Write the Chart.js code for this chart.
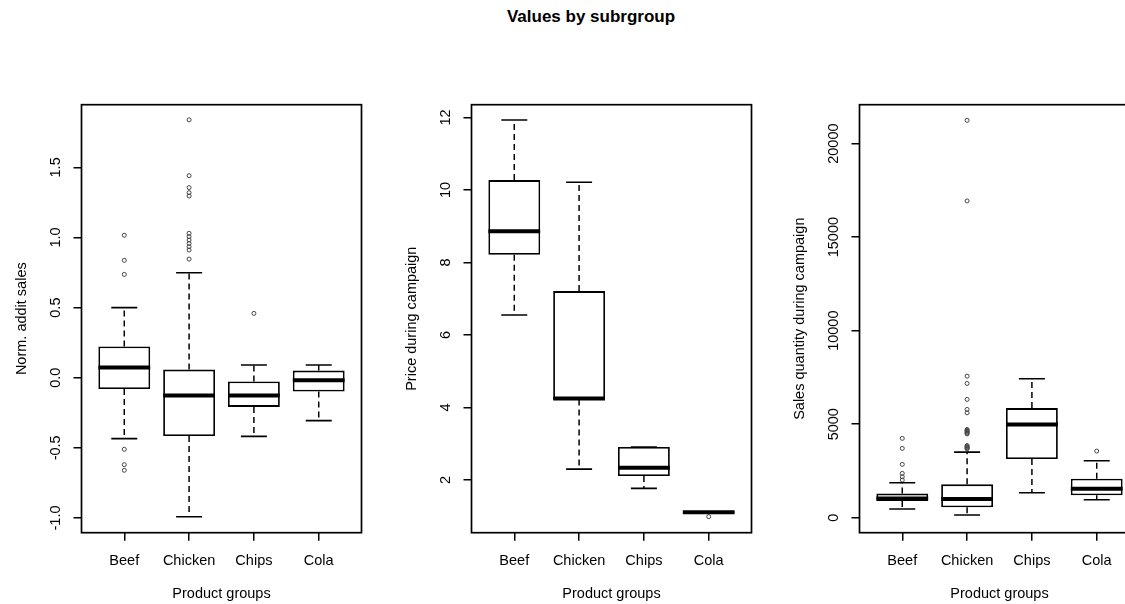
<!DOCTYPE html>
<html>
<head>
<meta charset="utf-8">
<script src="https://cdn.jsdelivr.net/npm/chart.js@4"></script>
<style>
  html, body { margin: 0; padding: 0; background: #fff; overflow: hidden; width: 1125px; height: 604px; }
  #title { position: absolute; left: 0; width: 1182px; top: 6px; text-align: center;
           font: bold 17px "Liberation Sans", Arial, sans-serif; color: #000; line-height: 22px; }
  canvas { position: absolute; top: 0; }
</style>
</head>
<body>
<div id="title">Values by subrgroup</div>
<canvas id="c1" width="375" height="604" style="left:0px"></canvas>
<canvas id="c2" width="375" height="604" style="left:390px"></canvas>
<canvas id="c3" width="375" height="604" style="left:778px"></canvas>
<script>
// ---------------- data ----------------
const categories = ['Beef', 'Chicken', 'Chips', 'Cola'];
const xAxisTitle = 'Product groups';

// Panel 1: Norm. addit sales
const normLow    = [-0.434, -0.991, -0.418, -0.306];
const normQ1     = [-0.080, -0.416, -0.208, -0.099];
const normMedian = [ 0.073, -0.127, -0.127, -0.018];
const normQ3     = [ 0.223,  0.058, -0.027,  0.051];
const normHigh   = [ 0.500,  0.749,  0.091,  0.091];
const normOutBeef    = [1.016, 0.837, 0.737, -0.51, -0.62, -0.66];
const normOutChicken = [1.839, 1.441, 1.356, 1.320, 1.296, 1.030, 1.006, 0.982, 0.958, 0.934, 0.911, 0.846];
const normOutChips   = [0.459];
const normOutCola    = [];
const normTicks = [-1.0, -0.5, 0.0, 0.5, 1.0, 1.5];

// Panel 2: Price during campaign
const priceLow    = [6.55, 2.30, 1.77, 1.11];
const priceQ1     = [8.21, 4.22, 2.11, 1.10];
const priceMedian = [8.86, 4.25, 2.34, 1.11];
const priceQ3     = [10.27, 7.21, 2.91, 1.12];
const priceHigh   = [11.93, 10.21, 2.91, 1.12];
const priceOutBeef    = [];
const priceOutChicken = [];
const priceOutChips   = [];
const priceOutCola    = [0.99];
const priceTicks = [2, 4, 6, 8, 10, 12];

// Panel 3: Sales quantity during campaign
const salesLow    = [465, 144, 1336, 962];
const salesQ1     = [890, 555, 3136, 1197];
const salesMedian = [1030, 999, 4989, 1549];
const salesQ3     = [1290, 1784, 5860, 2083];
const salesHigh   = [1870, 3510, 7426, 3045];
const salesOutBeef    = [4242, 3707, 2852, 2372, 2190, 2014];
const salesOutChicken = [21245, 16934, 7570, 7178, 6325, 5791, 5609, 4720, 4670, 4620, 4570, 4520, 4480, 3860, 3810, 3760, 3720, 3680];
const salesOutChips   = [];
const salesOutCola    = [3563];
const salesTicks = [0, 5000, 10000, 15000, 20000];

// ---------------- helpers ----------------
const FONT = '"Liberation Sans", Arial, sans-serif';
const FS = 14.5;
const Y_WIDTH = 81.5;     // space left of plot region
const X_HEIGHT = 71.3;    // space below plot region
const TICK_LEN = 8;

const measureCtx = document.createElement('canvas').getContext('2d');
measureCtx.font = FS + 'px ' + FONT;

const framePlugin = {
  id: 'frame',
  afterDatasetsDraw(chart) {
    const a = chart.chartArea, ctx = chart.ctx;
    ctx.save();
    ctx.strokeStyle = '#000';
    ctx.lineWidth = 1.7;
    ctx.strokeRect(a.left, a.top, a.right - a.left, a.bottom - a.top);
    ctx.restore();
  }
};

function makePanel(id, yTitle, yMin, yMax, yTicks, fmt, low, q1, med, q3, high, outs) {
  const boxes = categories.map((c, i) => ({ x: i + 1, y: [q1[i], q3[i]] }));
  const medians = categories.map((c, i) => ({ x: i + 1, y: med[i] }));
  const caps = [];
  const whiskers = [];
  categories.forEach((c, i) => {
    caps.push({ x: i + 1, y: high[i] }, { x: i + 1, y: low[i] });
    whiskers.push({ x: i + 1, y: q3[i] }, { x: i + 1, y: high[i] }, { x: i + 1, y: null });
    whiskers.push({ x: i + 1, y: q1[i] }, { x: i + 1, y: low[i] }, { x: i + 1, y: null });
  });
  const outliers = [];
  outs.forEach((arr, i) => arr.forEach(v => outliers.push({ x: i + 1, y: v })));

  const labels = yTicks.map(fmt);
  const widest = Math.max(...labels.map(l => measureCtx.measureText(l).width));
  const yPad = 25.5 - TICK_LEN - widest / 2;

  new Chart(document.getElementById(id), {
    type: 'bar',
    data: {
      datasets: [
        { type: 'scatter', data: medians, pointStyle: 'line', pointRadius: 25.9, pointHoverRadius: 25.9,
          borderColor: '#000', pointBorderWidth: 4, borderWidth: 4, order: 0 },
        { type: 'scatter', data: caps, pointStyle: 'line', pointRadius: 13, pointHoverRadius: 13,
          borderColor: '#000', pointBorderWidth: 1.6, borderWidth: 1.6, order: 1 },
        { type: 'scatter', data: outliers, pointStyle: 'circle', pointRadius: 2, pointHoverRadius: 2,
          borderColor: '#444', backgroundColor: 'rgba(255,255,255,0)', pointBorderWidth: 1, borderWidth: 1, order: 1 },
        { type: 'line', data: whiskers, borderColor: '#000', borderWidth: 1.5, borderDash: [6, 4],
          pointRadius: 0, spanGaps: false, fill: false, tension: 0, order: 2 },
        { type: 'bar', data: boxes, backgroundColor: '#fff', borderColor: '#000', borderWidth: 1.8,
          borderSkipped: false, barPercentage: 0.8, categoryPercentage: 1.0, order: 3 }
      ]
    },
    options: {
      responsive: false,
      devicePixelRatio: 1,
      animation: false,
      events: [],
      layout: { autoPadding: false, padding: { top: 104.7, right: 375 - Y_WIDTH - 280, bottom: 0, left: 0 } },
      plugins: { legend: { display: false }, tooltip: { enabled: false }, title: { display: false } },
      scales: {
        x: {
          type: 'linear', min: 0.34, max: 4.66, offset: false,
          grid: { display: true, offset: false, drawOnChartArea: false, drawTicks: true,
                  tickLength: TICK_LEN, color: '#000', lineWidth: 1.5 },
          border: { display: false },
          afterBuildTicks: s => { s.ticks = categories.map((c, i) => ({ value: i + 1 })); },
          afterFit: s => { s.height = X_HEIGHT; s.paddingLeft = 0; s.paddingRight = 0; },
          ticks: { autoSkip: false, maxRotation: 0, minRotation: 0, padding: 11.3, color: '#000',
                   font: { family: FONT, size: FS }, callback: (v, i) => categories[i] },
          title: { display: true, text: xAxisTitle, color: '#000', font: { family: FONT, size: FS },
                   padding: { top: 0, bottom: 1 } }
        },
        y: {
          type: 'linear', min: yMin, max: yMax,
          grid: { display: true, drawOnChartArea: false, drawTicks: true,
                  tickLength: TICK_LEN, color: '#000', lineWidth: 1.5 },
          border: { display: false },
          afterBuildTicks: s => { s.ticks = yTicks.map(v => ({ value: v })); },
          afterFit: s => { s.width = Y_WIDTH; s.paddingTop = 0; s.paddingBottom = 0; },
          ticks: { autoSkip: false, minRotation: 90, maxRotation: 90, crossAlign: 'center',
                   padding: yPad, color: '#000', font: { family: FONT, size: FS },
                   callback: (v) => fmt(v) },
          title: { display: true, text: yTitle, color: '#000', font: { family: FONT, size: FS },
                   padding: { top: 13, bottom: 0 } }
        }
      }
    },
    plugins: [framePlugin]
  });
}

makePanel('c1', 'Norm. addit sales', -1.105, 1.947, normTicks, v => v.toFixed(1),
  normLow, normQ1, normMedian, normQ3, normHigh,
  [normOutBeef, normOutChicken, normOutChips, normOutCola]);

makePanel('c2', 'Price during campaign', 0.547, 12.35, priceTicks, v => String(v),
  priceLow, priceQ1, priceMedian, priceQ3, priceHigh,
  [priceOutBeef, priceOutChicken, priceOutChips, priceOutCola]);

makePanel('c3', 'Sales quantity during campaign', -800, 22080, salesTicks, v => String(v),
  salesLow, salesQ1, salesMedian, salesQ3, salesHigh,
  [salesOutBeef, salesOutChicken, salesOutChips, salesOutCola]);
</script>
</body>
</html>
